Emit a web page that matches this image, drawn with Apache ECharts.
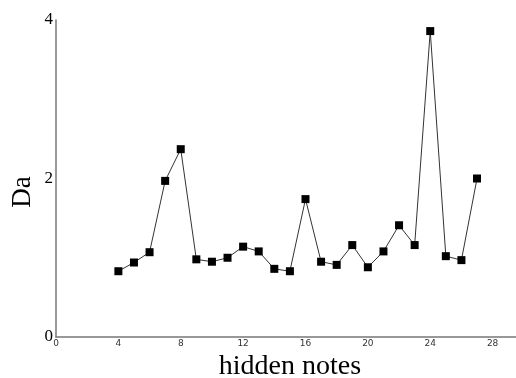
<!DOCTYPE html>
<html>
<head>
<meta charset="utf-8">
<script src="https://cdn.jsdelivr.net/npm/echarts@6/dist/echarts.min.js"></script>
<style>
  html, body { margin: 0; padding: 0; background: #fff; }
  #chart { width: 516px; height: 378px; }
</style>
</head>
<body>
<div id="chart"></div>
<script>
// hidden notes (x) and Da values (y)
var notes = [4, 5, 6, 7, 8, 9, 10, 11, 12, 13, 14, 15, 16, 17, 18, 19, 20, 21, 22, 23, 24, 25, 26, 27]
var daValues = [0.83, 0.94, 1.07, 1.97, 2.37, 0.98, 0.95, 1.00, 1.14, 1.08, 0.86, 0.83, 1.74, 0.95, 0.91, 1.16, 0.88, 1.08, 1.41, 1.16, 3.86, 1.02, 0.97, 2.00]
var xTicks = [0, 4, 8, 12, 16, 20, 24, 28]
var yTicks = [0, 2, 4]

var points = []
for (var i = 0; i < notes.length; i++) {
  points.push([notes[i], daValues[i]])
}

var chart = echarts.init(document.getElementById('chart'))

var option = {
  animation: false,
  grid: { left: 56, top: 20, right: 0, bottom: 41, containLabel: false, outerBoundsMode: 'none' },
  xAxis: {
    type: 'value',
    min: 0,
    max: 29.5,
    interval: 4,
    name: 'hidden notes',
    nameLocation: 'middle',
    nameGap: 14,
    nameTextStyle: { fontFamily: 'Liberation Serif', fontSize: 28, color: '#000', padding: [0, 0, 0, 8] },
    axisLine: { show: true, lineStyle: { color: '#777', width: 1.5 } },
    axisTick: { show: false },
    splitLine: { show: false },
    axisLabel: {
      fontFamily: 'DejaVu Sans', fontSize: 9, color: '#333', margin: 2,
      showMaxLabel: false,
      formatter: function (v) { return xTicks.indexOf(v) >= 0 ? String(v) : '' }
    }
  },
  yAxis: {
    type: 'value',
    min: 0,
    max: 4,
    interval: 2,
    axisLine: { show: true, lineStyle: { color: '#777', width: 1.5 } },
    axisTick: { show: false },
    splitLine: { show: false },
    axisLabel: {
      fontFamily: 'Liberation Serif', fontSize: 17, color: '#000', margin: 3,
      formatter: function (v) { return yTicks.indexOf(v) >= 0 ? String(v) : '' }
    }
  },
  graphic: [{
    type: 'text',
    x: 23,
    y: 192,
    rotation: Math.PI / 2,
    style: {
      text: 'Da', font: '27px "Liberation Serif"', fill: '#000',
      align: 'center', verticalAlign: 'middle'
    }
  }],
  series: [{
    type: 'line',
    data: points,
    symbol: 'rect',
    symbolSize: 8,
    itemStyle: { color: '#000' },
    lineStyle: { color: '#333', width: 1 }
  }]
}

chart.setOption(option)
</script>
</body>
</html>
